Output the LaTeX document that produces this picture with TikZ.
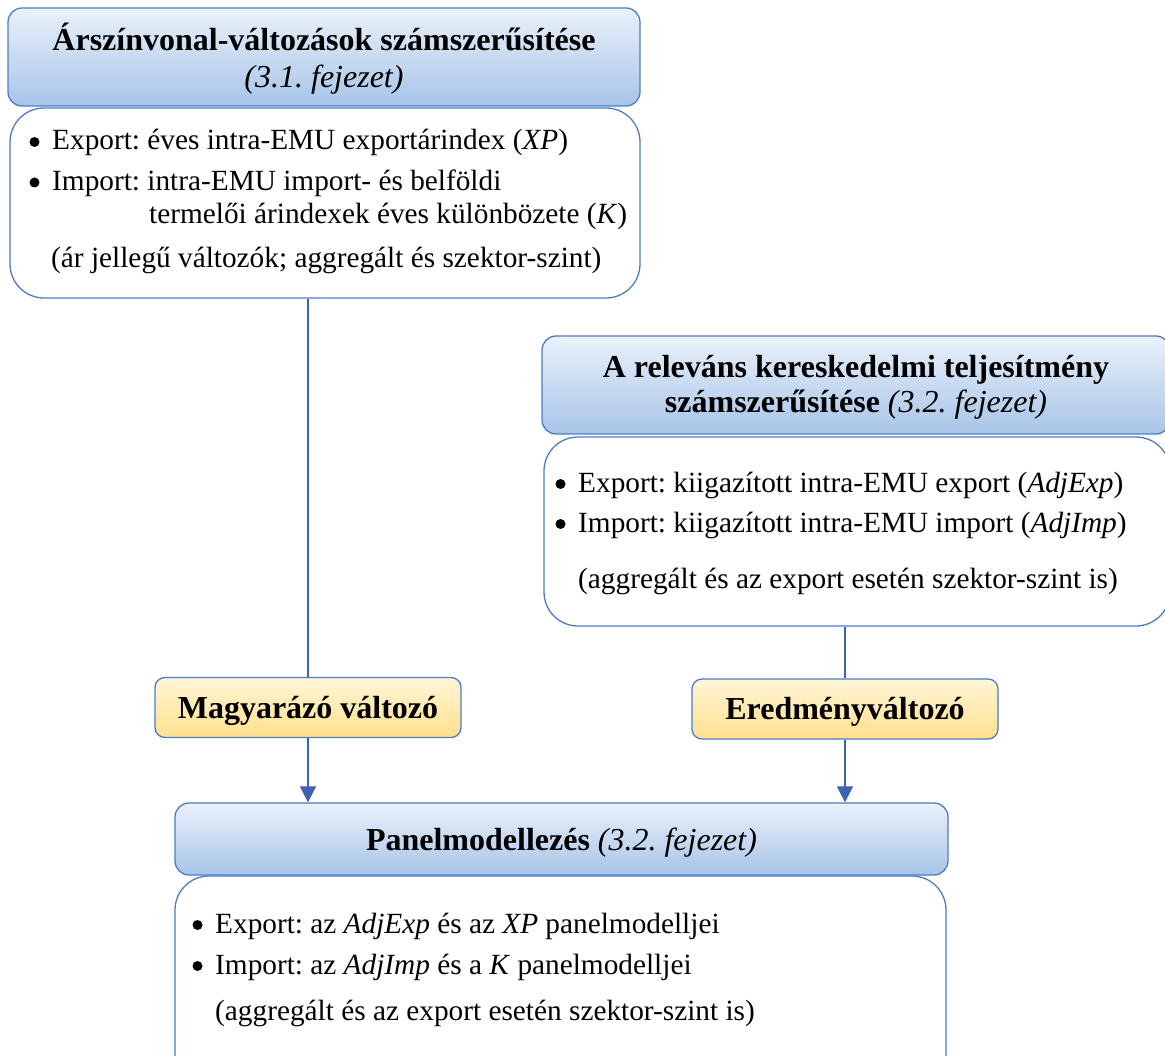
\documentclass[tikz,border=0pt]{standalone}
\usepackage{fontspec}
\setmainfont{Liberation Serif}
\usetikzlibrary{arrows.meta, positioning}

\definecolor{boxblue}{HTML}{4D7CC6}
\definecolor{linkblue}{HTML}{3D62B0}
\definecolor{headtop}{HTML}{EAF1FA}
\definecolor{headbot}{HTML}{A7C4E8}
\definecolor{tagtop}{HTML}{FFF5D8}
\definecolor{tagbot}{HTML}{FFE08C}

\tikzset{
    head/.style={draw=boxblue, line width=1.3pt, rounded corners=14pt, top color=headtop, bottom color=headbot},
    title/.style={anchor=base, inner sep=0pt, font=\fontsize{32}{36}\selectfont\bfseries},
    body/.style={draw=boxblue, line width=1.3pt, rounded corners=34pt, fill=white},
    tag/.style={draw=boxblue, line width=1.3pt, rounded corners=10pt, top color=tagtop, bottom color=tagbot,
        minimum width=306pt, minimum height=60pt, text height=23pt, text depth=2pt,
        font=\fontsize{32}{36}\selectfont\bfseries},
    txt/.style={anchor=base west, inner sep=0pt, font=\fontsize{29.3}{34}\selectfont},
    link/.style={draw=linkblue, line width=1.6pt},
}
\frenchspacing

\begin{document}
\begin{tikzpicture}[x=1pt, y=-1pt]
    \useasboundingbox (0,0) rectangle (1165,1056);
    \clip (0,0) rectangle (1165,1056);

    % price level block
    \node (hA) [head, minimum width=632pt, minimum height=98pt] at (324,57) {};
    \node (hA1) [title] at (324,51) {Árszínvonal-változások számszerűsítése};
    \node (hA2) [title, font=\fontsize{32}{36}\selectfont\itshape] at (324,88) {(3.1. fejezet)};
    \node (bA) [body, minimum width=630pt, minimum height=190pt] at (325,203) {};
    \node (aExp) [txt] at (52,150) {Export: éves intra-EMU exportárindex (\textit{XP})};
    \node (aImp) [txt] at (52,190.5) {Import: intra-EMU import- és belföldi};
    \node (aImpb) [txt] at (149,224) {termelői árindexek éves különbözete (\textit{K})};
    \node (aNote) [txt] at (51,268) {(ár jellegű változók; aggregált és szektor-szint)};

    % trade performance block
    \node (hB) [head, minimum width=628pt, minimum height=98pt] at (856,385) {};
    \node (hB1) [title] at (856,378) {A releváns kereskedelmi teljesítmény};
    \node (hB2) [title] at (856,413) {számszerűsítése \mdseries\itshape (3.2. fejezet)};
    \node (bB) [body, minimum width=626pt, minimum height=189pt] at (857,531.5) {};
    \node (bExp) [txt] at (578,492) {Export: kiigazított intra-EMU export (\textit{AdjExp})};
    \node (bImp) [txt] at (578,532) {Import: kiigazított intra-EMU import (\textit{AdjImp})};
    \node (bNote) [txt] at (578,588) {(aggregált és az export esetén szektor-szint is)};

    % variable tags
    \node (magy) [tag] at (308,707.5) {Magyarázó változó};
    \node (ered) [tag] at (845,709) {Eredményváltozó};

    % panel model block
    \node (hP) [head, minimum width=773pt, minimum height=72pt] at (561.5,839) {};
    \node (hP1) [title] at (561.5,850) {Panelmodellezés \mdseries\itshape (3.2. fejezet)};
    \node (bP) [body, minimum width=771pt, minimum height=214pt] at (560.5,983) {};
    \node (pExp) [txt] at (215,933) {Export: az \textit{AdjExp} és az \textit{XP} panelmodelljei};
    \node (pImp) [txt] at (215,974) {Import: az \textit{AdjImp} és a \textit{K} panelmodelljei};
    \node (pNote) [txt] at (215,1020) {(aggregált és az export esetén szektor-szint is)};

    % bullets
    \foreach \n in {aExp, aImp, bExp, bImp, pExp, pImp}
        \fill ([xshift=-17.5pt, yshift=8pt]\n.base west) circle (5pt);

    \draw [link] (magy.north |- bA.south) -- (magy.north);
    \draw [link] (ered.north |- bB.south) -- (ered.north);
    \draw [link, -{Triangle[length=16pt, width=16pt]}] (magy.south) -- (magy.south |- hP.north);
    \draw [link, -{Triangle[length=16pt, width=16pt]}] (ered.south) -- (ered.south |- hP.north);
\end{tikzpicture}
\end{document}
